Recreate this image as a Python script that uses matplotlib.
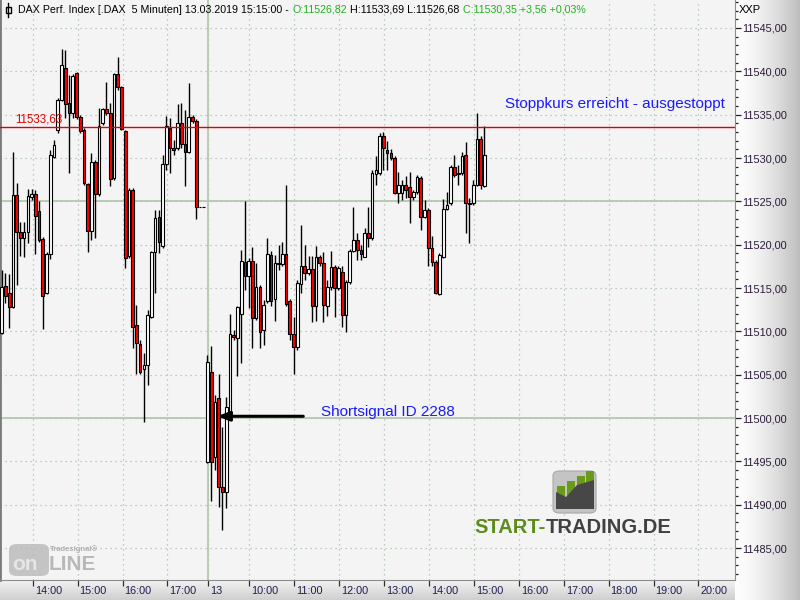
import numpy as np
import matplotlib
matplotlib.use("Agg")
import matplotlib.pyplot as plt
from matplotlib.patches import Rectangle, FancyBboxPatch, Polygon
from matplotlib.lines import Line2D
from matplotlib.ticker import MultipleLocator, FuncFormatter
from matplotlib.transforms import ScaledTranslation

plt.rcParams['font.family'] = ['Liberation Sans', 'DejaVu Sans']

# ---- DATA: DAX 5-Minuten-Kerzen ---------------------------------------------
# 12.03.2019 (Nachmittag bis Schluss)
open_d1 = [11509.81, 11515.23, 11514.42, 11512.81, 11525.73, 11521.46, 11520.77, 11521.46, 11525.50, 11525.85,
           11523.89, 11520.65, 11514.42, 11518.92, 11530.12, 11533.23, 11536.69, 11540.38, 11536.35, 11535.19,
           11539.81, 11534.73, 11533.23, 11527.00, 11521.58, 11529.54, 11525.85, 11534.04, 11535.65, 11535.19,
           11527.69, 11539.69, 11538.19, 11533.12, 11518.69, 11526.31, 11510.73, 11508.54, 11505.65, 11506.12,
           11511.65, 11519.15, 11523.19, 11519.85, 11529.31, 11533.46, 11531.15, 11531.15, 11534.04, 11531.62,
           11530.69, 11534.73, 11534.27, 11524.35, 11524.35]
high_d1 = [11517.08, 11516.73, 11516.62, 11530.69, 11527.12, 11522.62, 11522.62, 11526.42, 11526.42, 11526.31,
           11525.04, 11520.88, 11519.15, 11530.92, 11532.08, 11536.92, 11542.58, 11542.46, 11539.58, 11539.69,
           11539.92, 11534.96, 11533.46, 11527.12, 11530.58, 11529.77, 11535.77, 11535.77, 11538.77, 11536.35,
           11539.81, 11541.65, 11538.31, 11533.23, 11526.54, 11526.54, 11513.04, 11509.00, 11507.50, 11512.46,
           11519.27, 11524.00, 11524.00, 11530.35, 11534.85, 11534.62, 11532.08, 11536.23, 11536.35, 11535.54,
           11538.65, 11534.96, 11534.50, 11524.35, 11524.35]
low_d1 = [11509.69, 11513.27, 11510.38, 11512.69, 11515.35, 11518.69, 11518.58, 11520.19, 11525.15, 11518.92,
          11520.31, 11510.27, 11514.31, 11518.35, 11530.00, 11532.88, 11536.58, 11534.62, 11528.27, 11534.62,
          11534.50, 11532.88, 11526.88, 11519.15, 11520.54, 11520.77, 11525.62, 11533.81, 11534.96, 11526.77,
          11527.46, 11537.85, 11533.23, 11517.31, 11518.46, 11508.08, 11505.08, 11505.08, 11499.54, 11503.81,
          11511.54, 11514.42, 11519.04, 11519.62, 11528.62, 11528.27, 11530.35, 11530.92, 11531.15, 11526.77,
          11530.58, 11534.04, 11522.96, 11524.35, 11524.35]
close_d1 = [11515.12, 11514.08, 11512.81, 11525.73, 11521.46, 11520.77, 11521.46, 11525.62, 11525.85, 11523.31,
            11520.54, 11514.08, 11518.92, 11530.35, 11531.50, 11536.69, 11540.73, 11536.23, 11535.19, 11539.46,
            11534.73, 11533.12, 11527.12, 11521.58, 11529.54, 11525.85, 11533.69, 11535.65, 11535.19, 11527.58,
            11539.69, 11538.19, 11533.35, 11518.46, 11526.31, 11510.50, 11508.65, 11505.31, 11506.12, 11511.88,
            11519.15, 11523.08, 11520.31, 11529.31, 11533.69, 11531.15, 11530.92, 11534.04, 11531.62, 11530.69,
            11534.73, 11534.27, 11524.35, 11524.35, 11524.35]

# 13.03.2019 (09:05 bis 15:15)
open_d2 = [11494.92, 11505.31, 11495.50, 11502.31, 11492.04, 11491.46, 11500.58, 11509.58, 11509.23, 11512.00,
           11518.00, 11516.38, 11518.12, 11511.54, 11515.12, 11510.15, 11513.50, 11518.81, 11513.73, 11517.88,
           11517.77, 11518.92, 11513.50, 11509.69, 11508.19, 11515.46, 11517.54, 11516.73, 11517.19, 11512.92,
           11518.58, 11517.88, 11512.92, 11515.12, 11517.42, 11515.00, 11516.85, 11511.88, 11515.69, 11519.27,
           11520.54, 11519.38, 11518.58, 11521.35, 11520.77, 11528.15, 11528.27, 11532.54, 11530.92, 11530.58,
           11530.00, 11525.96, 11525.96, 11526.88, 11526.65, 11525.50, 11526.08, 11527.69, 11523.19, 11524.00,
           11519.62, 11518.00, 11514.31, 11518.58, 11524.12, 11524.81, 11528.96, 11528.15, 11528.27, 11530.35,
           11524.81, 11524.81, 11526.88, 11532.19, 11526.82]
high_d2 = [11507.27, 11508.31, 11502.65, 11505.08, 11498.96, 11502.42, 11512.00, 11510.15, 11512.92, 11519.38,
           11525.04, 11518.46, 11519.73, 11517.88, 11515.35, 11513.62, 11520.77, 11519.27, 11518.81, 11519.96,
           11520.31, 11526.88, 11513.73, 11511.65, 11515.92, 11522.27, 11519.96, 11518.69, 11518.69, 11519.85,
           11518.81, 11519.15, 11515.92, 11519.27, 11517.65, 11517.54, 11517.54, 11515.92, 11519.50, 11524.35,
           11521.35, 11519.96, 11521.92, 11524.35, 11528.62, 11530.23, 11532.88, 11533.00, 11531.96, 11531.04,
           11530.23, 11528.38, 11527.46, 11527.92, 11528.38, 11526.31, 11528.04, 11527.92, 11525.15, 11524.23,
           11521.00, 11518.23, 11519.04, 11525.27, 11526.08, 11529.19, 11530.35, 11529.19, 11530.69, 11531.85,
           11525.38, 11527.46, 11535.19, 11532.54, 11533.69]
low_d2 = [11494.81, 11490.42, 11494.00, 11489.73, 11487.08, 11489.62, 11499.77, 11509.00, 11504.85, 11506.35,
          11514.77, 11512.69, 11508.08, 11511.31, 11508.08, 11508.42, 11513.27, 11512.92, 11511.19, 11517.08,
          11517.54, 11512.92, 11509.00, 11505.08, 11507.85, 11514.42, 11515.92, 11516.50, 11511.08, 11511.19,
          11517.54, 11511.08, 11511.77, 11514.77, 11511.65, 11514.77, 11510.50, 11509.92, 11515.46, 11519.15,
          11518.23, 11518.23, 11518.58, 11519.73, 11520.54, 11526.88, 11528.04, 11528.62, 11528.62, 11529.77,
          11525.85, 11524.81, 11525.15, 11525.38, 11522.50, 11525.15, 11525.85, 11521.69, 11523.08, 11517.54,
          11517.54, 11514.31, 11514.19, 11518.46, 11524.00, 11524.58, 11527.81, 11526.88, 11528.04, 11521.35,
          11520.19, 11524.58, 11526.77, 11526.42, 11526.68]
close_d2 = [11506.46, 11494.92, 11501.85, 11492.04, 11491.46, 11501.27, 11509.69, 11509.35, 11512.81, 11518.12,
            11516.38, 11518.12, 11511.54, 11515.12, 11509.92, 11513.04, 11518.92, 11513.50, 11517.88, 11517.77,
            11518.92, 11513.15, 11509.69, 11508.19, 11515.58, 11517.54, 11516.73, 11517.19, 11512.92, 11518.58,
            11517.88, 11513.04, 11515.12, 11517.42, 11515.00, 11517.31, 11511.88, 11515.69, 11519.27, 11520.54,
            11519.38, 11518.92, 11521.35, 11520.77, 11528.27, 11528.62, 11532.54, 11531.15, 11530.58, 11530.00,
            11525.96, 11526.88, 11526.88, 11526.31, 11525.50, 11526.08, 11527.81, 11523.19, 11524.00, 11519.62,
            11518.00, 11514.42, 11518.81, 11524.12, 11524.58, 11528.96, 11528.04, 11528.27, 11530.23, 11524.81,
            11524.69, 11526.88, 11532.19, 11526.88, 11530.35]

# Zeitachse (Beschriftung + Lage in Bar-Nummern, 0 = erste Kerze am 13.03.)
time_labels = ["14:00", "15:00", "16:00", "17:00", "13", "10:00", "11:00", "12:00", "13:00",
               "14:00", "15:00", "16:00", "17:00", "18:00", "19:00", "20:00"]
time_bars = [-46.7, -34.7, -22.7, -10.7, 0.1, 11.2, 23.2, 35.2, 47.2,
             59.2, 71.2, 83.2, 95.2, 107.2, 119.2, 131.2]

STOP_LEVEL = 11533.63      # Stoppkurs
SUPPORT_LEVEL = 11525.0    # horizontale Linie
SIGNAL_LEVEL = 11500.0     # Shortsignal-Linie
ARROW_LEVEL = 11500.2
# -----------------------------------------------------------------------------

W, H = 800, 600
PLOT_R, PLOT_B = 735, 580

opens = open_d1 + open_d2
highs = high_d1 + high_d2
lows = low_d1 + low_d2
closes = close_d1 + close_d2
bars = np.arange(-len(open_d1), len(open_d2))


def fx(px):
    return px / W


def fy(py):
    return 1 - py / H


fig = plt.figure(figsize=(8, 6), dpi=100)
fig.patch.set_facecolor('#f4f4f4')

# Hintergrund-Verläufe rechts und unten
g = np.linspace(0, 1, 256)
side = fig.add_axes([fx(PLOT_R), 0, fx(W - PLOT_R), 1])
side.imshow((0.99 - 0.25 * g ** 1.6)[None, :], cmap='gray', vmin=0, vmax=1,
            aspect='auto', extent=(0, 1, 0, 1))
side.axis('off')
bot = fig.add_axes([0, 0, fx(PLOT_R), 1 - fy(H - PLOT_B)])
bot.imshow((0.95 - 0.14 * g)[:, None], cmap='gray', vmin=0, vmax=1,
           aspect='auto', extent=(0, 1, 0, 1))
bot.axis('off')

ax = fig.add_axes([0, fy(PLOT_B), fx(PLOT_R), 1 - fy(PLOT_B)])
ax.set_facecolor('#f4f4f4')
ax.set_xlim(-55.45, 140.97)
ax.set_ylim(11481.31, 11548.23)

# Kerzen
BODY_W = 0.72
for b, o, h, l, c in zip(bars, opens, highs, lows, closes):
    ax.plot([b, b], [l, h], color='black', lw=1.0, zorder=3, solid_capstyle='butt')
    lo, hi = min(o, c), max(o, c)
    ax.add_patch(Rectangle((b - BODY_W / 2, lo), BODY_W, max(hi - lo, 0.05),
                           facecolor='#ff0000' if c < o else 'white',
                           edgecolor='black', lw=0.8, zorder=4))

# Gitter
ax.grid(True, which='major', color='#a6bfa6', linestyle=(0, (1, 3)), linewidth=0.9)
ax.set_axisbelow(True)

# Linien
ax.axhline(SUPPORT_LEVEL, color='#b2c9ae', lw=1.3, zorder=2)
ax.axhline(SIGNAL_LEVEL, color='#b2c9ae', lw=1.3, zorder=2)
ax.axvline(0.1, color='#b2c9ae', lw=1.3, zorder=2)
ax.axhline(STOP_LEVEL, color='#e00000', lw=1.0, zorder=5)
ax.text(-51.4, STOP_LEVEL + 0.15, f"{STOP_LEVEL:.2f}".replace('.', ','),
        color='#e00000', fontsize=8.3, va='bottom', ha='left', zorder=6)

ax.text(79.5, 11536.23, "Stoppkurs erreicht - ausgestoppt", color='#1a1aff',
        fontsize=11, va='center', ha='left', zorder=6)
ax.text(30.3, 11500.69, "Shortsignal ID 2288", color='#1a1aff',
        fontsize=11, va='center', ha='left', zorder=6)
ax.annotate("", xy=(2.6, ARROW_LEVEL), xytext=(25.6, ARROW_LEVEL),
            arrowprops=dict(arrowstyle='-|>,head_length=0.9,head_width=0.35',
                            color='black', lw=2.2, mutation_scale=8, shrinkA=0, shrinkB=0),
            zorder=7)

# Achsen
ax.spines['top'].set_visible(False)
ax.spines['left'].set_color('#7a7a7a')
ax.spines['left'].set_linewidth(2)
ax.spines['right'].set_color('#8c8c8c')
ax.spines['bottom'].set_color('#8c8c8c')

ax.yaxis.tick_right()
ax.yaxis.set_major_locator(MultipleLocator(5))
ax.yaxis.set_minor_locator(MultipleLocator(1))
ax.yaxis.set_major_formatter(FuncFormatter(lambda v, p: f"{v:.2f}".replace('.', ',')))
ax.tick_params(axis='y', which='major', length=4, width=0.9, color='#202020',
               pad=1.5, labelsize=7.8, labelcolor='#2a1a3a')
ax.tick_params(axis='y', which='minor', length=2, width=0.9, color='#202020')

ax.set_xticks(time_bars)
ax.set_xticklabels(time_labels)
ax.tick_params(axis='x', length=4, width=0.9, color='#303030', pad=0.5,
               labelsize=7.8, labelcolor='#1e1e50')
shift = ScaledTranslation(0.02, 0, fig.dpi_scale_trans)
for lbl in ax.get_xticklabels():
    lbl.set_ha('left')
    lbl.set_transform(lbl.get_transform() + shift)

fig.text(fx(739), fy(10), "XXP", fontsize=8, color='black', va='center', ha='left')

renderer = fig.canvas.get_renderer()


def draw_pieces(x_px, y_px, pieces, gap, **kw):
    x = x_px
    for s, col in pieces:
        t = fig.text(fx(x), fy(y_px), s, color=col, ha='left', **kw)
        x += t.get_window_extent(renderer).width + gap


# Kopfzeile
draw_pieces(18, 10, [("DAX Perf. Index [.DAX  5 Minuten] 13.03.2019 15:15:00 -", 'black'),
                     ("O:11526,82", '#20b020'),
                     ("H:11533,69 L:11526,68", 'black'),
                     ("C:11530,35 +3,56 +0,03%", '#20b020')],
            gap=3.5, fontsize=7.7, va='center')
fig.add_artist(Line2D([fx(8), fx(8)], [fy(3), fy(17)], color='black', lw=1))
fig.add_artist(Rectangle((fx(5.5), fy(13)), fx(5), 1 - fy(6), facecolor='white',
                         edgecolor='black', lw=1))

# Logo START-TRADING.DE
fig.add_artist(FancyBboxPatch((fx(553), fy(513)), fx(43), 1 - fy(42),
                              boxstyle='round,pad=0,rounding_size=0.008',
                              facecolor='#c4c4c4', edgecolor='#a8a8a8', lw=0.8))
for x0, top in [(557, 486), (567, 481), (577, 476), (586, 471)]:
    fig.add_artist(Rectangle((fx(x0), fy(500)), fx(8), fy(top) - fy(500),
                             facecolor='#6a9a1a', edgecolor='none'))
fig.add_artist(Polygon([(fx(556), fy(509)), (fx(556), fy(492)), (fx(566), fy(497)),
                        (fx(577), fy(485)), (fx(594), fy(480)), (fx(594), fy(509))],
                       closed=True, facecolor='#474747', edgecolor='none'))
draw_pieces(474, 533, [("START-", '#5d8c1a'), ("TRADING.DE", '#404040')],
            gap=0, fontsize=14.5, fontweight='bold', va='baseline')

# Logo Tradesignal online
fig.add_artist(FancyBboxPatch((fx(9), fy(576)), fx(40), 1 - fy(32),
                              boxstyle='round,pad=0,rounding_size=0.01',
                              facecolor='#b8b8b8', edgecolor='none', alpha=0.8))
fig.text(fx(12), fy(564), "on", fontsize=15, fontweight='bold', color='#e6e6e6',
         va='center', ha='left')
fig.text(fx(49), fy(564), "LINE", fontsize=15, fontweight='bold', color='#b8b8b8',
         va='center', ha='left')
fig.text(fx(50), fy(549), "Tradesignal®", fontsize=5.5, fontweight='bold', color='#b0b0b0',
         va='center', ha='left')

fig.savefig("out.png", dpi=100)
